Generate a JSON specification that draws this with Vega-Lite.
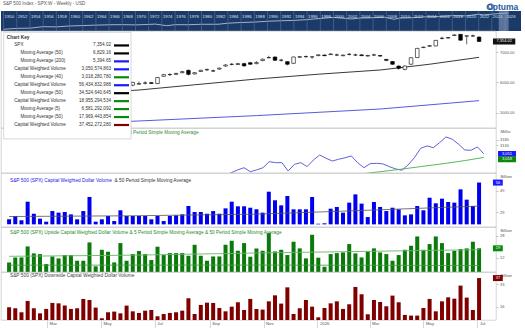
{
"$schema":"https://vega.github.io/schema/vega-lite/v6.json",
"padding":0,
"background":"white",
"spacing":0,
"bounds":"flush",
"config":{"font":"Liberation Sans","view":{"stroke":"#c4c4c4","strokeWidth":0.7}},
"datasets":{
"w":[
{"d":"2025-01-17","o":5900,"h":6020,"l":5870,"c":5997,"bv":22.2,"gv":8.8,"rv":15.5},
{"d":"2025-01-24","o":6000,"h":6130,"l":5980,"c":6101,"bv":25.3,"gv":12.4,"rv":14.8},
{"d":"2025-01-31","o":6100,"h":6120,"l":5990,"c":6040,"bv":21.3,"gv":12.4,"rv":11.8},
{"d":"2025-02-07","o":6040,"h":6100,"l":5990,"c":6026,"bv":38.6,"gv":20.3,"rv":20.3},
{"d":"2025-02-14","o":6030,"h":6130,"l":6000,"c":6115,"bv":27.4,"gv":15.3,"rv":14.8},
{"d":"2025-02-21","o":6115,"h":6140,"l":6000,"c":6013,"bv":22.8,"gv":14.8,"rv":11.0},
{"d":"2025-02-28","o":6010,"h":6040,"l":5840,"c":5955,"bv":20.0,"gv":7.6,"rv":14.3},
{"d":"2025-03-07","o":5950,"h":5990,"l":5670,"c":5770,"bv":29.9,"gv":13.1,"rv":18.8},
{"d":"2025-03-14","o":5770,"h":5810,"l":5510,"c":5639,"bv":28.4,"gv":11.7,"rv":18.5},
{"d":"2025-03-21","o":5640,"h":5720,"l":5600,"c":5667,"bv":29.0,"gv":14.1,"rv":16.8},
{"d":"2025-03-28","o":5670,"h":5780,"l":5570,"c":5581,"bv":26.8,"gv":14.1,"rv":14.3},
{"d":"2025-04-04","o":5580,"h":5700,"l":5060,"c":5074,"bv":22.2,"gv":10.0,"rv":14.8},
{"d":"2025-04-11","o":5070,"h":5480,"l":4840,"c":5363,"bv":29.9,"gv":10.0,"rv":21.8},
{"d":"2025-04-18","o":5360,"h":5390,"l":5100,"c":5283,"bv":43.0,"gv":23.2,"rv":21.0},
{"d":"2025-04-25","o":5280,"h":5540,"l":5260,"c":5525,"bv":20.0,"gv":6.0,"rv":15.3},
{"d":"2025-05-02","o":5525,"h":5700,"l":5430,"c":5687,"bv":22.2,"gv":17.9,"rv":7.3},
{"d":"2025-05-09","o":5680,"h":5720,"l":5600,"c":5660,"bv":25.3,"gv":16.5,"rv":11.8},
{"d":"2025-05-16","o":5660,"h":5960,"l":5650,"c":5958,"bv":20.6,"gv":8.8,"rv":12.3},
{"d":"2025-05-23","o":5950,"h":5970,"l":5770,"c":5802,"bv":30.6,"gv":22.7,"rv":11.0},
{"d":"2025-05-30","o":5800,"h":5940,"l":5760,"c":5912,"bv":25.3,"gv":10.0,"rv":16.8},
{"d":"2025-06-06","o":5910,"h":6020,"l":5870,"c":6000,"bv":25.3,"gv":14.8,"rv":12.5},
{"d":"2025-06-13","o":5940,"h":6030,"l":5920,"c":5960,"bv":25.3,"gv":17.0,"rv":11.3},
{"d":"2025-06-20","o":5975,"h":6040,"l":5930,"c":5980,"bv":25.3,"gv":14.8,"rv":13.0},
{"d":"2025-06-27","o":5990,"h":6010,"l":5950,"c":5965,"bv":22.2,"gv":10.5,"rv":13.5},
{"d":"2025-07-04","o":5960,"h":6180,"l":5950,"c":6160,"bv":25.3,"gv":20.1,"rv":8.8},
{"d":"2025-07-11","o":6200,"h":6280,"l":6190,"c":6255,"bv":20.6,"gv":14.1,"rv":10.5},
{"d":"2025-07-18","o":6255,"h":6300,"l":6210,"c":6260,"bv":25.3,"gv":15.5,"rv":11.3},
{"d":"2025-07-25","o":6265,"h":6320,"l":6250,"c":6295,"bv":25.9,"gv":15.5,"rv":11.8},
{"d":"2025-08-01","o":6320,"h":6380,"l":6300,"c":6355,"bv":26.8,"gv":15.5,"rv":13.0},
{"d":"2025-08-08","o":6400,"h":6420,"l":6230,"c":6265,"bv":34.6,"gv":13.6,"rv":22.3},
{"d":"2025-08-15","o":6280,"h":6340,"l":6260,"c":6320,"bv":29.0,"gv":21.5,"rv":10.5},
{"d":"2025-08-22","o":6360,"h":6420,"l":6340,"c":6400,"bv":29.0,"gv":13.6,"rv":17.3},
{"d":"2025-08-29","o":6415,"h":6460,"l":6380,"c":6420,"bv":27.4,"gv":10.0,"rv":19.0},
{"d":"2025-09-05","o":6380,"h":6420,"l":6340,"c":6376,"bv":29.9,"gv":13.1,"rv":18.8},
{"d":"2025-09-12","o":6440,"h":6490,"l":6420,"c":6470,"bv":27.4,"gv":13.1,"rv":15.0},
{"d":"2025-09-19","o":6540,"h":6600,"l":6520,"c":6575,"bv":32.4,"gv":21.5,"rv":12.5},
{"d":"2025-09-26","o":6595,"h":6640,"l":6560,"c":6600,"bv":38.6,"gv":24.4,"rv":16.0},
{"d":"2025-10-03","o":6590,"h":6650,"l":6575,"c":6620,"bv":34.3,"gv":17.2,"rv":19.3},
{"d":"2025-10-10","o":6620,"h":6650,"l":6520,"c":6545,"bv":34.3,"gv":22.7,"rv":13.5},
{"d":"2025-10-17","o":6650,"h":6680,"l":6580,"c":6600,"bv":33.0,"gv":12.9,"rv":21.8},
{"d":"2025-10-24","o":6620,"h":6700,"l":6600,"c":6660,"bv":31.5,"gv":18.9,"rv":14.3},
{"d":"2025-10-31","o":6720,"h":6790,"l":6700,"c":6765,"bv":28.4,"gv":17.2,"rv":13.8},
{"d":"2025-11-07","o":6815,"h":6880,"l":6800,"c":6820,"bv":47.9,"gv":29.9,"rv":20.0},
{"d":"2025-11-14","o":6840,"h":6860,"l":6710,"c":6730,"bv":39.9,"gv":16.7,"rv":24.5},
{"d":"2025-11-21","o":6730,"h":6780,"l":6690,"c":6735,"bv":35.2,"gv":17.9,"rv":18.3},
{"d":"2025-11-28","o":6685,"h":6700,"l":6560,"c":6600,"bv":43.9,"gv":14.1,"rv":30.5},
{"d":"2025-12-05","o":6630,"h":6850,"l":6620,"c":6840,"bv":31.5,"gv":23.7,"rv":10.5},
{"d":"2025-12-12","o":6830,"h":6870,"l":6820,"c":6850,"bv":31.5,"gv":18.9,"rv":14.8},
{"d":"2025-12-19","o":6850,"h":6890,"l":6815,"c":6855,"bv":31.5,"gv":11.7,"rv":21.0},
{"d":"2025-12-26","o":6840,"h":6850,"l":6780,"c":6845,"bv":43.0,"gv":28.7,"rv":16.0},
{"d":"2026-01-02","o":6885,"h":6930,"l":6870,"c":6910,"bv":18.1,"gv":12.2,"rv":8.0},
{"d":"2026-01-09","o":6905,"h":6920,"l":6870,"c":6883,"bv":18.5,"gv":5.7,"rv":15.0},
{"d":"2026-01-16","o":6920,"h":6960,"l":6905,"c":6940,"bv":32.1,"gv":14.8,"rv":18.5},
{"d":"2026-01-23","o":6905,"h":6950,"l":6870,"c":6908,"bv":33.7,"gv":15.5,"rv":20.0},
{"d":"2026-01-30","o":6880,"h":6920,"l":6870,"c":6900,"bv":28.4,"gv":16.0,"rv":14.3},
{"d":"2026-02-06","o":6925,"h":6970,"l":6890,"c":6930,"bv":37.7,"gv":22.0,"rv":17.8},
{"d":"2026-02-13","o":6905,"h":6950,"l":6870,"c":6908,"bv":45.4,"gv":15.3,"rv":30.8},
{"d":"2026-02-20","o":6910,"h":6930,"l":6870,"c":6885,"bv":36.8,"gv":12.4,"rv":25.3},
{"d":"2026-02-27","o":6870,"h":6910,"l":6860,"c":6890,"bv":24.3,"gv":16.7,"rv":10.3},
{"d":"2026-03-06","o":6905,"h":6950,"l":6870,"c":6908,"bv":38.3,"gv":18.9,"rv":21.0},
{"d":"2026-03-13","o":6890,"h":6900,"l":6850,"c":6870,"bv":33.7,"gv":16.0,"rv":19.5},
{"d":"2026-03-20","o":6760,"h":6770,"l":6700,"c":6730,"bv":29.9,"gv":14.8,"rv":16.3},
{"d":"2026-03-27","o":6690,"h":6700,"l":6580,"c":6600,"bv":33.0,"gv":10.0,"rv":24.3},
{"d":"2026-04-03","o":6540,"h":6560,"l":6420,"c":6465,"bv":31.5,"gv":14.1,"rv":19.3},
{"d":"2026-04-10","o":6430,"h":6560,"l":6400,"c":6540,"bv":25.9,"gv":17.9,"rv":9.8},
{"d":"2026-04-17","o":6600,"h":6830,"l":6590,"c":6815,"bv":26.8,"gv":20.8,"rv":9.3},
{"d":"2026-04-24","o":6820,"h":7140,"l":6810,"c":7125,"bv":34.6,"gv":27.5,"rv":9.3},
{"d":"2026-05-01","o":7150,"h":7180,"l":7140,"c":7165,"bv":30.6,"gv":17.9,"rv":15.0},
{"d":"2026-05-08","o":7195,"h":7230,"l":7180,"c":7215,"bv":42.3,"gv":22.0,"rv":21.8},
{"d":"2026-05-15","o":7205,"h":7400,"l":7200,"c":7390,"bv":37.1,"gv":27.5,"rv":12.5},
{"d":"2026-05-22","o":7455,"h":7510,"l":7420,"c":7460,"bv":41.4,"gv":22.7,"rv":20.0},
{"d":"2026-05-29","o":7465,"h":7500,"l":7450,"c":7485,"bv":38.3,"gv":15.5,"rv":23.0},
{"d":"2026-06-05","o":7550,"h":7590,"l":7540,"c":7570,"bv":37.7,"gv":17.2,"rv":22.0},
{"d":"2026-06-12","o":7590,"h":7600,"l":7380,"c":7395,"bv":50.1,"gv":18.4,"rv":31.8},
{"d":"2026-06-19","o":7530,"h":7550,"l":7260,"c":7540,"bv":40.5,"gv":18.9,"rv":22.8},
{"d":"2026-06-26","o":7535,"h":7580,"l":7500,"c":7540,"bv":34.6,"gv":23.7,"rv":13.5},
{"d":"2026-07-03","o":7500,"h":7520,"l":7340,"c":7354.02,"bv":56.43,"gv":18.96,"rv":37.45}
],
"ma50":[{"d":"2025-01-17","v":5520},{"d":"2025-03-28","v":5620},{"d":"2025-06-13","v":5747},{"d":"2025-08-15","v":5920},{"d":"2025-10-24","v":6111},{"d":"2026-01-02","v":6270},{"d":"2026-03-13","v":6409},{"d":"2026-05-08","v":6600},{"d":"2026-07-03","v":6829.16}],
"ma200":[{"d":"2025-01-17","v":4560},{"d":"2025-06-13","v":4722},{"d":"2025-10-24","v":4900},{"d":"2026-03-13","v":5118},{"d":"2026-07-03","v":5394.65}],
"ind":[{"d":"2025-08-15","v":2800},{"d":"2025-09-19","v":2850},{"d":"2025-09-26","v":2880},{"d":"2025-10-03","v":2905},{"d":"2025-10-10","v":2925},{"d":"2025-10-17","v":2889},{"d":"2025-10-24","v":2905},{"d":"2025-10-31","v":2925},{"d":"2025-11-07","v":2980},{"d":"2025-11-14","v":2971},{"d":"2025-11-21","v":2971},{"d":"2025-11-28","v":2895},{"d":"2025-12-05","v":2956},{"d":"2025-12-12","v":2971},{"d":"2025-12-19","v":2935},{"d":"2025-12-26","v":2995},{"d":"2026-01-02","v":3041},{"d":"2026-01-09","v":3011},{"d":"2026-01-16","v":2986},{"d":"2026-01-23","v":3002},{"d":"2026-01-30","v":3015},{"d":"2026-02-06","v":3032},{"d":"2026-02-13","v":2971},{"d":"2026-02-20","v":2925},{"d":"2026-02-27","v":2962},{"d":"2026-03-06","v":2965},{"d":"2026-03-13","v":2960},{"d":"2026-03-20","v":2935},{"d":"2026-03-27","v":2915},{"d":"2026-04-03","v":2902},{"d":"2026-04-10","v":2950},{"d":"2026-04-17","v":3016},{"d":"2026-04-24","v":3102},{"d":"2026-05-01","v":3123},{"d":"2026-05-08","v":3107},{"d":"2026-05-15","v":3153},{"d":"2026-05-22","v":3205},{"d":"2026-05-29","v":3184},{"d":"2026-06-05","v":3138},{"d":"2026-06-12","v":3086},{"d":"2026-06-19","v":3084},{"d":"2026-06-26","v":3114},{"d":"2026-07-03","v":3050.57}],
"ind2":[{"d":"2026-01-30","v":2850},{"d":"2026-02-27","v":2878},{"d":"2026-03-27","v":2905},{"d":"2026-04-24","v":2935},{"d":"2026-05-22","v":2965},{"d":"2026-06-12","v":2990},{"d":"2026-07-03","v":3018.28}],
"bma":[{"d":"2025-01-17","v":24.8},{"d":"2025-06-06","v":25.5},{"d":"2025-10-24","v":27.0},{"d":"2026-02-06","v":30.0},{"d":"2026-07-03","v":34.52}],
"gma":[{"d":"2025-01-17","v":13.2},{"d":"2025-06-06","v":14.0},{"d":"2025-10-24","v":15.6},{"d":"2026-03-13","v":16.9},{"d":"2026-07-03","v":17.97}],
"gma5":[{"d":"2025-01-17","v":6.8},{"d":"2025-10-24","v":6.9},{"d":"2026-07-03","v":6.58}],
"nav":[{"d":"1950-01-01","v":17},{"d":"1952-01-01","v":24},{"d":"1954-01-01","v":26},{"d":"1956-01-01","v":45},{"d":"1958-01-01","v":42},{"d":"1960-01-01","v":58},{"d":"1962-01-01","v":68},{"d":"1964-01-01","v":80},{"d":"1966-01-01","v":92},{"d":"1968-01-01","v":96},{"d":"1970-01-01","v":88},{"d":"1972-01-01","v":104},{"d":"1973-01-01","v":118},{"d":"1974-10-01","v":65},{"d":"1976-01-01","v":95},{"d":"1978-01-01","v":93},{"d":"1980-01-01","v":110},{"d":"1982-07-01","v":110},{"d":"1984-01-01","v":165},{"d":"1986-01-01","v":210},{"d":"1988-01-01","v":250},{"d":"1990-01-01","v":340},{"d":"1992-01-01","v":410},{"d":"1994-01-01","v":465},{"d":"1996-01-01","v":620},{"d":"1998-01-01","v":970},{"d":"2000-01-01","v":1450},{"d":"2002-10-01","v":800},{"d":"2004-01-01","v":1130},{"d":"2006-01-01","v":1280},{"d":"2007-10-01","v":1550},{"d":"2009-03-01","v":700},{"d":"2010-01-01","v":1120},{"d":"2012-01-01","v":1300},{"d":"2014-01-01","v":1840},{"d":"2016-01-01","v":1940},{"d":"2018-01-01","v":2700},{"d":"2020-03-01","v":2500},{"d":"2022-01-01","v":4700},{"d":"2022-10-01","v":3600},{"d":"2024-01-01","v":4800},{"d":"2025-01-01","v":5900},{"d":"2026-07-01","v":7354}],
"yrs":[{"d":"1950-01-01","yr":"1950"},{"d":"1952-01-01","yr":"1952"},{"d":"1954-01-01","yr":"1954"},{"d":"1956-01-01","yr":"1956"},{"d":"1958-01-01","yr":"1958"},{"d":"1960-01-01","yr":"1960"},{"d":"1962-01-01","yr":"1962"},{"d":"1964-01-01","yr":"1964"},{"d":"1966-01-01","yr":"1966"},{"d":"1968-01-01","yr":"1968"},{"d":"1970-01-01","yr":"1970"},{"d":"1972-01-01","yr":"1972"},{"d":"1974-01-01","yr":"1974"},{"d":"1976-01-01","yr":"1976"},{"d":"1978-01-01","yr":"1978"},{"d":"1980-01-01","yr":"1980"},{"d":"1982-01-01","yr":"1982"},{"d":"1984-01-01","yr":"1984"},{"d":"1986-01-01","yr":"1986"},{"d":"1988-01-01","yr":"1988"},{"d":"1990-01-01","yr":"1990"},{"d":"1992-01-01","yr":"1992"},{"d":"1994-01-01","yr":"1994"},{"d":"1996-01-01","yr":"1996"},{"d":"1998-01-01","yr":"1998"},{"d":"2000-01-01","yr":"2000"},{"d":"2002-01-01","yr":"2002"},{"d":"2004-01-01","yr":"2004"},{"d":"2006-01-01","yr":"2006"},{"d":"2008-01-01","yr":"2008"},{"d":"2010-01-01","yr":"2010"},{"d":"2012-01-01","yr":"2012"},{"d":"2014-01-01","yr":"2014"},{"d":"2016-01-01","yr":"2016"},{"d":"2018-01-01","yr":"2018"},{"d":"2020-01-01","yr":"2020"},{"d":"2022-01-01","yr":"2022"},{"d":"2024-01-01","yr":"2024"},{"d":"2026-01-01","yr":"2026"}],
"key":[{"r":1,"id":"k1","name":"SPX","val":"7,354.02","ind":0},{"r":2,"id":"k2","name":"Moving Average (50)","val":"6,829.16","ind":1},{"r":3,"id":"k3","name":"Moving Average (200)","val":"5,394.65","ind":1},{"r":4,"id":"k4","name":"Capital Weighted Volume","val":"3,050,574,863","ind":0},{"r":5,"id":"k5","name":"Moving Average (40)","val":"3,018,280,780","ind":1},{"r":6,"id":"k6","name":"Capital Weighted Volume","val":"56,434,832,988","ind":0},{"r":7,"id":"k7","name":"Moving Average (50)","val":"34,524,640,645","ind":1},{"r":8,"id":"k8","name":"Capital Weighted Volume","val":"18,955,294,534","ind":0},{"r":9,"id":"k9","name":"Moving Average (5)","val":"6,581,292,092","ind":1},{"r":10,"id":"k10","name":"Moving Average (50)","val":"17,969,443,854","ind":1},{"r":11,"id":"k11","name":"Capital Weighted Volume","val":"37,452,272,280","ind":0}]
},
"vconcat":[
{
"width":520,"height":20,
"view":{"fill":"#1b3a68","stroke":null},
"layer":[
 {"data":{"name":"nav"},"mark":{"type":"line","color":"#c5cfdf","strokeWidth":0.8},
  "encoding":{
   "x":{"field":"d","type":"temporal","scale":{"type":"utc","domain":[{"year":1949,"month":8,"date":14,"utc":true},{"year":2028,"month":5,"date":31,"utc":true}]},"axis":null},
   "y":{"field":"v","type":"quantitative","scale":{"type":"log","domain":[9,15500]},"axis":null}}},
 {"data":{"values":[{}]},"layer":[
  {"data":{"name":"yrs"},"mark":{"type":"rule","color":"#5372a0","strokeWidth":0.6},"encoding":{"x":{"field":"d","type":"temporal"},"y":{"datum":0,"type":"quantitative","scale":{"domain":[0,1],"nice":false,"zero":false},"axis":null},"y2":{"datum":1}}},
  {"data":{"name":"yrs"},"mark":{"type":"text","align":"left","baseline":"bottom","dx":1,"fontSize":4.3,"color":"#dde3ee"},"encoding":{"x":{"field":"d","type":"temporal"},"y":{"datum":0.62,"type":"quantitative"},"text":{"field":"yr"}}},
  {"mark":{"type":"rect","color":"#8ea3c4","opacity":0.55},"encoding":{"x":{"datum":{"year":2025,"month":1,"date":13,"utc":true},"type":"temporal"},"x2":{"datum":{"year":2026,"month":7,"date":16,"utc":true}},"y":{"datum":0,"type":"quantitative"},"y2":{"datum":1}}},
  {"mark":{"type":"text","text":"S&P 500 Index - SPX:W - Weekly - USD","align":"left","baseline":"middle","fontSize":4.6,"color":"#555"},"encoding":{"x":{"datum":{"year":1949,"month":12,"date":1,"utc":true},"type":"temporal"},"y":{"datum":1.33,"type":"quantitative"}}},
  {"mark":{"type":"text","text":"Optuma","align":"right","baseline":"alphabetic","fontSize":8.5,"fontWeight":"bold","color":"#1f5aa0"},"encoding":{"x":{"datum":{"year":2028,"month":1,"date":1,"utc":true},"type":"temporal"},"y":{"datum":1.06,"type":"quantitative"}}},
  {"mark":{"type":"point","shape":"circle","filled":false,"stroke":"#1f5aa0","strokeWidth":1.6,"size":26},"encoding":{"x":{"datum":{"year":2023,"month":11,"date":1,"utc":true},"type":"temporal"},"y":{"datum":1.22,"type":"quantitative"}}}
 ]}
],
"resolve":{"scale":{"y":"independent"}}
},
{
"width":495,"height":97,
"layer":[
 {"data":{"name":"ma200"},"mark":{"type":"line","color":"#4646d6","strokeWidth":0.9},"encoding":{"x":{"field":"d","type":"temporal","scale":{"type":"utc","domain":[{"year":2025,"month":1,"date":13,"hours":12,"utc":true},{"year":2026,"month":7,"date":16,"hours":12,"utc":true}]},"axis":null},"y":{"field":"v","type":"quantitative","scale":{"domain":[4490,7700],"zero":false,"nice":false},"axis":{"orient":"right","values":[5000,6000,7000],"format":".2f","labelFontSize":4,"labelColor":"#555","tickSize":2,"tickColor":"#999","tickWidth":0.6,"labelPadding":1.5,"domain":false,"grid":false,"labelOverlap":false,"labelFlush":false,"title":null}}}},
 {"data":{"name":"ma50"},"mark":{"type":"line","color":"#222","strokeWidth":0.9},"encoding":{"x":{"field":"d","type":"temporal","axis":null},"y":{"field":"v","type":"quantitative"}}},
 {"data":{"name":"w"},"mark":{"type":"rule","color":"#000","strokeWidth":0.6},"encoding":{"x":{"field":"d","type":"temporal","axis":null},"y":{"field":"l","type":"quantitative"},"y2":{"field":"h"}}},
 {"data":{"name":"w"},"mark":{"type":"bar","size":3.6,"stroke":"#000","strokeWidth":0.6},"encoding":{"x":{"field":"d","type":"temporal","axis":null},"y":{"field":"o","type":"quantitative"},"y2":{"field":"c"},"fill":{"condition":{"test":"datum.c >= datum.o","value":"#ffffff"},"value":"#000000"}}},
 {"data":{"values":[{}]},"layer":[
  {"mark":{"type":"rect","color":"#111"},"encoding":{"x":{"datum":{"year":2026,"month":7,"date":18,"hours":17,"utc":true},"type":"temporal"},"x2":{"datum":{"year":2026,"month":8,"date":13,"utc":true}},"y":{"datum":7254,"type":"quantitative"},"y2":{"datum":7454}}},
  {"mark":{"type":"text","text":"7,354.02","color":"white","fontSize":4,"align":"center","baseline":"middle"},"encoding":{"x":{"datum":{"year":2026,"month":7,"date":31,"hours":12,"utc":true},"type":"temporal"},"y":{"datum":7354.02,"type":"quantitative"}}}
 ]}
]
},
{
"width":495,"height":45,
"layer":[
 {"layer":[
  {"data":{"name":"ind"},"mark":{"type":"line","color":"#4f4fd9","strokeWidth":0.9,"clip":true},"encoding":{"x":{"field":"d","type":"temporal","scale":{"type":"utc","domain":[{"year":2025,"month":1,"date":13,"hours":12,"utc":true},{"year":2026,"month":7,"date":16,"hours":12,"utc":true}]},"axis":null},"y":{"field":"v","type":"quantitative","scale":{"domain":[2877,3286],"zero":false,"nice":false},"axis":{"orient":"right","values":[3180,3130],"format":"d","labelFontSize":4,"labelColor":"#555","tickSize":2,"tickColor":"#999","tickWidth":0.6,"labelPadding":1.5,"domain":false,"grid":false,"labelOverlap":false,"labelFlush":false,"title":"Millio","titleAngle":0,"titleAlign":"left","titleBaseline":"top","titleX":4,"titleY":1,"titleFontSize":4.3,"titleFontWeight":"normal","titleColor":"#555"}}}},
  {"data":{"name":"ind2"},"mark":{"type":"line","color":"#4cae4c","strokeWidth":0.9,"clip":true},"encoding":{"x":{"field":"d","type":"temporal","axis":null},"y":{"field":"v","type":"quantitative"}}},
  {"data":{"values":[{}]},"layer":[
   {"mark":{"type":"text","text":"S&P 500 (SPX) Capital Weighted Dollar Volume & 40 Period Simple Moving Average","align":"left","baseline":"middle","fontSize":4.8,"color":"#2e8b2e"},"encoding":{"x":{"datum":{"year":2025,"month":2,"date":2,"utc":true},"type":"temporal"},"y":{"datum":3238,"type":"quantitative"}}},
   {"mark":{"type":"rect","color":"#1a1aff"},"encoding":{"x":{"datum":{"year":2026,"month":7,"date":18,"hours":17,"utc":true},"type":"temporal"},"x2":{"datum":{"year":2026,"month":8,"date":7,"hours":17,"utc":true}},"y":{"datum":3024,"type":"quantitative"},"y2":{"datum":3078}}},
   {"mark":{"type":"text","text":"3,051","color":"white","fontSize":4,"align":"center","baseline":"middle"},"encoding":{"x":{"datum":{"year":2026,"month":7,"date":28,"hours":17,"utc":true},"type":"temporal"},"y":{"datum":3051,"type":"quantitative"}}},
   {"mark":{"type":"rect","color":"#0a8a0a"},"encoding":{"x":{"datum":{"year":2026,"month":7,"date":18,"hours":17,"utc":true},"type":"temporal"},"x2":{"datum":{"year":2026,"month":8,"date":7,"hours":17,"utc":true}},"y":{"datum":2974,"type":"quantitative"},"y2":{"datum":3028}}},
   {"mark":{"type":"text","text":"3,018","color":"white","fontSize":4,"align":"center","baseline":"middle"},"encoding":{"x":{"datum":{"year":2026,"month":7,"date":28,"hours":17,"utc":true},"type":"temporal"},"y":{"datum":3001,"type":"quantitative"}}}
  ]}
 ]},
 {"data":{"name":"key"},"layer":[
  {"data":{"values":[{}]},"mark":{"type":"rect","fill":"#ffffff","stroke":"#bdbdbd","strokeWidth":0.6},"encoding":{"x":{"datum":{"year":2025,"month":1,"date":16,"hours":12,"utc":true},"type":"temporal"},"x2":{"datum":{"year":2025,"month":6,"date":6,"hours":17,"utc":true}},"y":{"datum":-0.65,"type":"quantitative","scale":{"domain":[0,11],"range":[-90.5,-3],"zero":false,"nice":false},"axis":null},"y2":{"datum":12.75}}},
  {"data":{"values":[{}]},"mark":{"type":"text","text":"Chart Key","align":"left","baseline":"middle","fontSize":4.8,"fontWeight":"bold","color":"#333"},"encoding":{"x":{"datum":{"year":2025,"month":1,"date":20,"utc":true},"type":"temporal"},"y":{"datum":0,"type":"quantitative"}}},
  {"transform":[{"filter":"datum.ind == 0"}],"mark":{"type":"text","align":"left","baseline":"middle","fontSize":4.6,"color":"#333"},"encoding":{"x":{"datum":{"year":2025,"month":1,"date":28,"hours":6,"utc":true},"type":"temporal"},"y":{"field":"r","type":"quantitative"},"text":{"field":"name"}}},
  {"transform":[{"filter":"datum.ind == 1"}],"mark":{"type":"text","align":"left","baseline":"middle","fontSize":4.6,"color":"#333"},"encoding":{"x":{"datum":{"year":2025,"month":2,"date":4,"utc":true},"type":"temporal"},"y":{"field":"r","type":"quantitative"},"text":{"field":"name"}}},
  {"mark":{"type":"text","align":"right","baseline":"middle","fontSize":4.6,"color":"#333"},"encoding":{"x":{"datum":{"year":2025,"month":5,"date":15,"hours":12,"utc":true},"type":"temporal"},"y":{"field":"r","type":"quantitative"},"text":{"field":"val"}}},
  {"mark":{"type":"rule","strokeWidth":2.2},"encoding":{"x":{"datum":{"year":2025,"month":5,"date":18,"hours":20,"utc":true},"type":"temporal"},"x2":{"datum":{"year":2025,"month":6,"date":4,"hours":12,"utc":true}},"y":{"field":"r","type":"quantitative"},"color":{"field":"id","type":"nominal","scale":{"domain":["k1","k2","k3","k4","k5","k6","k7","k8","k9","k10","k11"],"range":["#000000","#000000","#1a1aff","#1a1aff","#0a8a0a","#1a1aff","#000000","#0a8a0a","#0a8a0a","#0a8a0a","#800000"]},"legend":null}}}
 ]}
],
"resolve":{"scale":{"y":"independent"}}
},
{
"width":495,"height":54,
"layer":[
 {"data":{"name":"w"},"mark":{"type":"bar","size":4,"color":"#0000ee"},"encoding":{"x":{"field":"d","type":"temporal","scale":{"type":"utc","domain":[{"year":2025,"month":1,"date":13,"hours":12,"utc":true},{"year":2026,"month":7,"date":16,"hours":12,"utc":true}]},"axis":null},"y":{"field":"bv","type":"quantitative","scale":{"domain":[15.05,65.3],"zero":false,"nice":false},"axis":{"orient":"right","values":[29,34,39,44,49],"format":"d","labelFontSize":4,"labelColor":"#555","tickSize":2,"tickColor":"#999","tickWidth":0.6,"labelPadding":1.5,"domain":false,"grid":false,"labelOverlap":false,"labelFlush":false,"title":"Billion","titleAngle":0,"titleAlign":"left","titleBaseline":"top","titleX":4,"titleY":1,"titleFontSize":4.3,"titleFontWeight":"normal","titleColor":"#555"}},"y2":{"datum":17.5}}},
 {"data":{"name":"bma"},"mark":{"type":"line","color":"#555","strokeWidth":0.8},"encoding":{"x":{"field":"d","type":"temporal","axis":null},"y":{"field":"v","type":"quantitative"}}},
 {"data":{"values":[{}]},"layer":[
  {"mark":{"type":"text","text":"S&P 500 (SPX) Capital Weighted Dollar Volume","align":"left","baseline":"middle","fontSize":4.8,"color":"#1a1adf"},"encoding":{"x":{"datum":{"year":2025,"month":1,"date":18,"utc":true},"type":"temporal"},"y":{"datum":57.9,"type":"quantitative"}}},
  {"mark":{"type":"text","text":"& 50 Period Simple Moving Average","align":"left","baseline":"middle","fontSize":4.8,"color":"#333"},"encoding":{"x":{"datum":{"year":2025,"month":5,"date":16,"hours":6,"utc":true},"type":"temporal"},"y":{"datum":57.9,"type":"quantitative"}}},
  {"mark":{"type":"rect","color":"#1a1aff"},"encoding":{"x":{"datum":{"year":2026,"month":7,"date":18,"hours":17,"utc":true},"type":"temporal"},"x2":{"datum":{"year":2026,"month":7,"date":29,"hours":20,"utc":true}},"y":{"datum":53.6,"type":"quantitative"},"y2":{"datum":59.2}}},
  {"mark":{"type":"text","text":"56","color":"white","fontSize":4,"align":"center","baseline":"middle"},"encoding":{"x":{"datum":{"year":2026,"month":7,"date":24,"hours":7,"utc":true},"type":"temporal"},"y":{"datum":56.43,"type":"quantitative"}}}
 ]}
]
},
{
"width":495,"height":45,
"layer":[
 {"data":{"name":"w"},"mark":{"type":"bar","size":4,"color":"#0b7a0b"},"encoding":{"x":{"field":"d","type":"temporal","scale":{"type":"utc","domain":[{"year":2025,"month":1,"date":13,"hours":12,"utc":true},{"year":2026,"month":7,"date":16,"hours":12,"utc":true}]},"axis":null},"y":{"field":"gv","type":"quantitative","scale":{"domain":[1.9,34.3],"zero":false,"nice":false},"axis":{"orient":"right","values":[12,16,20,24,28],"format":"d","labelFontSize":4,"labelColor":"#555","tickSize":2,"tickColor":"#999","tickWidth":0.6,"labelPadding":1.5,"domain":false,"grid":false,"labelOverlap":false,"labelFlush":false,"title":"Billion","titleAngle":0,"titleAlign":"left","titleBaseline":"top","titleX":4,"titleY":1,"titleFontSize":4.3,"titleFontWeight":"normal","titleColor":"#555"}},"y2":{"datum":1.9}}},
 {"data":{"name":"gma"},"mark":{"type":"line","color":"#66b866","strokeWidth":0.9},"encoding":{"x":{"field":"d","type":"temporal","axis":null},"y":{"field":"v","type":"quantitative"}}},
 {"data":{"name":"gma5"},"mark":{"type":"line","color":"#3f9f3f","strokeWidth":0.8},"encoding":{"x":{"field":"d","type":"temporal","axis":null},"y":{"field":"v","type":"quantitative"}}},
 {"data":{"values":[{}]},"layer":[
  {"mark":{"type":"text","text":"S&P 500 (SPX) Upside Capital Weighted Dollar Volume & 5 Period Simple Moving Average & 50 Period Simple Moving Average","align":"left","baseline":"middle","fontSize":4.8,"color":"#1e8c1e"},"encoding":{"x":{"datum":{"year":2025,"month":1,"date":18,"utc":true},"type":"temporal"},"y":{"datum":30.0,"type":"quantitative"}}},
  {"mark":{"type":"rect","color":"#0a8a0a"},"encoding":{"x":{"datum":{"year":2026,"month":7,"date":18,"hours":17,"utc":true},"type":"temporal"},"x2":{"datum":{"year":2026,"month":7,"date":29,"hours":20,"utc":true}},"y":{"datum":16.8,"type":"quantitative"},"y2":{"datum":21.1}}},
  {"mark":{"type":"text","text":"19","color":"white","fontSize":4,"align":"center","baseline":"middle"},"encoding":{"x":{"datum":{"year":2026,"month":7,"date":24,"hours":7,"utc":true},"type":"temporal"},"y":{"datum":18.96,"type":"quantitative"}}}
 ]}
]
},
{
"width":495,"height":48,
"layer":[
 {"data":{"name":"w"},"mark":{"type":"bar","size":4,"color":"#800000"},"encoding":{"x":{"field":"d","type":"temporal","scale":{"type":"utc","domain":[{"year":2025,"month":1,"date":13,"hours":12,"utc":true},{"year":2026,"month":7,"date":16,"hours":12,"utc":true}]},"axis":{"orient":"bottom","values":[{"year":2025,"month":3,"date":1,"utc":true},{"year":2025,"month":5,"date":1,"utc":true},{"year":2025,"month":7,"date":1,"utc":true},{"year":2025,"month":9,"date":1,"utc":true},{"year":2025,"month":11,"date":1,"utc":true},{"year":2026,"month":1,"date":1,"utc":true},{"year":2026,"month":3,"date":1,"utc":true},{"year":2026,"month":5,"date":1,"utc":true},{"year":2026,"month":7,"date":1,"utc":true}],"labelExpr":"utcFormat(datum.value, '%m') == '01' ? utcFormat(datum.value, '%Y') : utcFormat(datum.value, '%b')","labelAlign":"left","labelOffset":2,"labelPadding":-8,"labelBaseline":"top","tickSize":9,"tickColor":"#bbb","tickWidth":0.6,"labelFontSize":4.3,"labelColor":"#555","domain":false,"grid":false,"title":null,"labelFlush":false,"labelOverlap":false}},"y":{"field":"rv","type":"quantitative","scale":{"domain":[6,42],"zero":false,"nice":false},"axis":{"orient":"right","values":[16,19,24,28,33],"format":"d","labelFontSize":4,"labelColor":"#555","tickSize":2,"tickColor":"#999","tickWidth":0.6,"labelPadding":1.5,"domain":false,"grid":false,"labelOverlap":false,"labelFlush":false,"title":"Billion","titleAngle":0,"titleAlign":"left","titleBaseline":"top","titleX":4,"titleY":1,"titleFontSize":4.3,"titleFontWeight":"normal","titleColor":"#555"}},"y2":{"datum":6}}},
 {"data":{"values":[{}]},"layer":[
  {"mark":{"type":"text","text":"S&P 500 (SPX) Downside Capital Weighted Dollar Volume","align":"left","baseline":"middle","fontSize":4.8,"color":"#444"},"encoding":{"x":{"datum":{"year":2025,"month":1,"date":18,"utc":true},"type":"temporal"},"y":{"datum":38.8,"type":"quantitative"}}},
  {"mark":{"type":"rect","color":"#800000"},"encoding":{"x":{"datum":{"year":2026,"month":7,"date":18,"hours":17,"utc":true},"type":"temporal"},"x2":{"datum":{"year":2026,"month":7,"date":29,"hours":20,"utc":true}},"y":{"datum":35.2,"type":"quantitative"},"y2":{"datum":39.7}}},
  {"mark":{"type":"text","text":"37","color":"white","fontSize":4,"align":"center","baseline":"middle"},"encoding":{"x":{"datum":{"year":2026,"month":7,"date":24,"hours":7,"utc":true},"type":"temporal"},"y":{"datum":37.45,"type":"quantitative"}}}
 ]}
]
}
]
}
